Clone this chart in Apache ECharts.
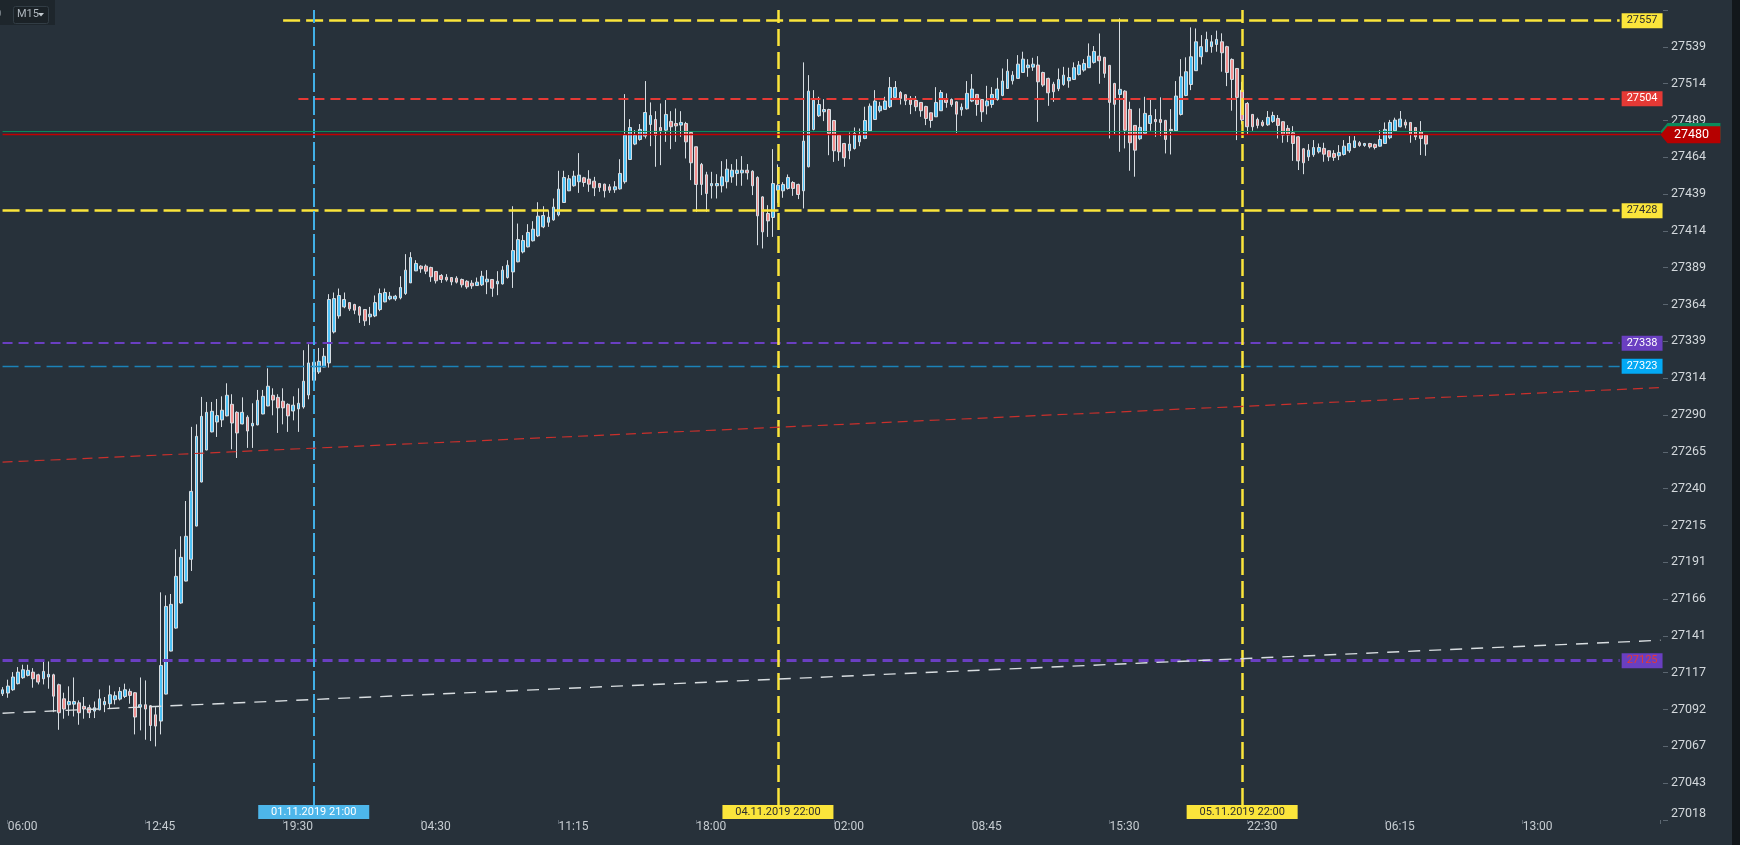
<!DOCTYPE html>
<html>
<head>
<meta charset="utf-8">
<title>M15</title>
<script src="https://cdn.jsdelivr.net/npm/echarts@6.0.0/dist/echarts.min.js"></script>
<style>
  html, body { margin: 0; padding: 0; background: #27313a; }
  #chart { width: 1740px; height: 845px; }
</style>
</head>
<body>
<div id="chart"></div>
<script>
// bar values, one bar per 15 minutes
var openVals = [
  27103.0, 27103.5, 27105.7, 27109.8, 27113.8, 27115.4, 27117.6, 27115.8, 27113.1, 27114.3,
  27115.8, 27109.1, 27099.6, 27095.6, 27096.0, 27096.9, 27094.5, 27093.6, 27091.3, 27092.2,
  27095.6, 27096.3, 27099.0, 27099.4, 27101.2, 27104.6, 27103.7, 27094.0, 27095.6, 27094.9,
  27088.8, 27084.6, 27102.8, 27131.8, 27147.3, 27164.2, 27179.0, 27193.7, 27216.1, 27245.8,
  27267.4, 27279.6, 27286.3, 27287.7, 27290.4, 27298.2, 27292.8, 27285.0, 27289.5, 27283.6,
  27284.3, 27291.7, 27297.1, 27304.3, 27302.9, 27300.3, 27298.2, 27293.7, 27295.1, 27296.4,
  27304.5, 27314.4, 27320.0, 27323.4, 27326.1, 27347.0, 27357.8, 27363.9, 27366.8, 27365.5,
  27363.9, 27362.1, 27357.2, 27357.8, 27362.1, 27367.3, 27369.3, 27369.3, 27370.0, 27372.9,
  27380.1, 27388.2, 27391.4, 27391.4, 27390.5, 27387.8, 27385.1, 27383.9, 27383.7, 27383.3,
  27382.4, 27381.2, 27379.9, 27378.3, 27378.8, 27380.8, 27382.4, 27379.4, 27379.4, 27383.7,
  27387.5, 27394.3, 27401.0, 27404.4, 27408.5, 27411.8, 27417.9, 27421.0, 27422.6, 27426.0,
  27434.3, 27442.2, 27445.6, 27448.3, 27451.0, 27450.1, 27448.7, 27447.1, 27446.7, 27444.9,
  27442.9, 27443.5, 27448.3, 27463.3, 27473.7, 27476.8, 27479.1, 27486.9, 27490.3, 27484.9,
  27483.1, 27489.0, 27487.6, 27486.5, 27487.6, 27481.5, 27471.9, 27460.0, 27453.0, 27445.6,
  27445.6, 27445.6, 27448.3, 27451.6, 27453.9, 27454.3, 27456.1, 27455.4, 27451.2, 27438.1,
  27426.9, 27424.2, 27442.6, 27442.2, 27443.8, 27447.8, 27446.5, 27442.2, 27458.4, 27483.6,
  27492.8, 27495.5, 27497.0, 27489.6, 27479.7, 27474.1, 27469.2, 27470.7, 27475.2, 27477.5,
  27482.7, 27490.3, 27496.2, 27497.1, 27498.9, 27505.2, 27508.5, 27507.0, 27504.5, 27503.1,
  27501.8, 27499.1, 27494.8, 27492.1, 27496.2, 27504.0, 27503.8, 27502.2, 27496.8, 27497.5,
  27502.7, 27507.2, 27503.8, 27499.5, 27500.4, 27503.8, 27506.5, 27511.2, 27516.4, 27518.0,
  27522.0, 27525.2, 27525.6, 27527.0, 27522.0, 27518.0, 27514.1, 27511.0, 27513.9, 27516.4,
  27517.3, 27520.7, 27523.6, 27525.2, 27528.8, 27533.0, 27532.2, 27526.8, 27514.6, 27507.2,
  27509.4, 27497.1, 27486.3, 27477.3, 27480.9, 27487.6, 27490.3, 27490.3, 27489.7, 27483.6,
  27482.7, 27493.7, 27506.5, 27513.9, 27523.2, 27532.6, 27536.0, 27539.4, 27540.9, 27542.7,
  27539.4, 27530.8, 27524.7, 27510.0, 27501.1, 27493.7, 27490.3, 27488.5, 27486.7, 27489.0,
  27491.0, 27488.8, 27484.3, 27481.3, 27478.6, 27470.5, 27465.1, 27466.5, 27468.5, 27470.8,
  27469.2, 27467.4, 27465.8, 27466.7, 27469.2, 27471.4, 27474.6, 27472.8, 27474.1, 27473.5,
  27472.3, 27474.1, 27478.0, 27482.7, 27485.4, 27488.5, 27488.3, 27484.9, 27482.0, 27479.8
];
var closeVals = [
  27105.7, 27108.2, 27114.3, 27117.6, 27119.2, 27118.8, 27113.1, 27110.9, 27118.1, 27116.1,
  27101.4, 27090.2, 27092.7, 27097.8, 27097.8, 27090.2, 27092.7, 27090.2, 27093.6, 27099.6,
  27097.8, 27102.3, 27101.7, 27104.6, 27105.7, 27101.9, 27087.3, 27095.6, 27092.7, 27081.6,
  27081.2, 27122.1, 27161.9, 27163.3, 27182.2, 27195.0, 27209.2, 27239.5, 27276.6, 27290.1,
  27292.8, 27293.5, 27290.6, 27294.2, 27304.3, 27285.6, 27278.9, 27292.8, 27280.2, 27285.4,
  27300.9, 27303.6, 27310.4, 27301.1, 27295.8, 27295.8, 27290.4, 27297.6, 27298.9, 27313.8,
  27326.1, 27326.6, 27327.2, 27330.6, 27368.9, 27369.5, 27371.6, 27368.9, 27362.6, 27361.7,
  27358.3, 27354.5, 27359.0, 27366.8, 27372.9, 27373.6, 27371.1, 27371.1, 27377.0, 27388.7,
  27397.2, 27393.2, 27389.6, 27388.0, 27384.2, 27381.5, 27382.4, 27382.1, 27380.8, 27380.6,
  27378.8, 27377.4, 27378.1, 27380.6, 27384.6, 27382.6, 27376.5, 27381.2, 27388.7, 27392.0,
  27401.9, 27409.3, 27408.7, 27414.1, 27416.3, 27425.1, 27425.5, 27424.4, 27431.2, 27443.3,
  27451.2, 27450.3, 27452.1, 27452.8, 27447.8, 27446.7, 27444.2, 27444.4, 27442.2, 27442.6,
  27444.9, 27453.9, 27479.7, 27484.9, 27479.7, 27483.6, 27495.0, 27493.0, 27479.7, 27482.7,
  27493.7, 27485.4, 27486.0, 27488.3, 27475.2, 27461.1, 27446.5, 27446.5, 27440.4, 27447.1,
  27447.1, 27451.6, 27456.8, 27456.1, 27456.1, 27456.1, 27454.3, 27445.6, 27425.3, 27414.5,
  27421.9, 27447.1, 27446.0, 27446.5, 27451.2, 27443.8, 27439.7, 27475.7, 27509.4, 27503.3,
  27500.4, 27497.0, 27480.9, 27469.2, 27468.5, 27464.4, 27473.7, 27480.9, 27479.7, 27489.6,
  27499.3, 27502.7, 27499.3, 27502.7, 27511.9, 27511.9, 27504.5, 27502.9, 27500.4, 27498.9,
  27496.2, 27491.0, 27489.6, 27501.8, 27508.5, 27501.8, 27500.4, 27493.9, 27498.6, 27507.9,
  27510.8, 27500.4, 27495.5, 27502.7, 27507.2, 27510.8, 27516.2, 27522.9, 27520.2, 27527.6,
  27531.0, 27527.0, 27527.6, 27515.7, 27513.5, 27508.3, 27509.0, 27517.3, 27520.2, 27518.6,
  27525.2, 27527.0, 27528.1, 27533.0, 27536.2, 27529.9, 27521.4, 27501.8, 27500.5, 27510.6,
  27483.1, 27474.6, 27469.6, 27485.0, 27494.4, 27493.0, 27488.8, 27488.3, 27476.8, 27482.7,
  27506.1, 27519.1, 27522.5, 27532.6, 27542.7, 27539.4, 27544.3, 27542.7, 27544.3, 27535.3,
  27522.0, 27517.3, 27505.2, 27490.0, 27485.4, 27485.4, 27486.3, 27486.3, 27491.7, 27493.0,
  27486.3, 27479.8, 27479.8, 27474.1, 27462.4, 27461.1, 27469.6, 27471.4, 27471.4, 27466.9,
  27465.1, 27464.7, 27468.1, 27472.3, 27474.1, 27475.9, 27472.8, 27474.1, 27471.9, 27471.4,
  27476.8, 27483.6, 27488.3, 27489.9, 27490.6, 27486.5, 27480.4, 27478.6, 27477.5, 27473.7
];
var lowVals = [
  27101.5, 27100.3, 27105.0, 27109.3, 27113.1, 27114.7, 27107.1, 27109.3, 27109.3, 27106.4,
  27090.6, 27078.7, 27086.2, 27088.2, 27087.7, 27082.1, 27086.2, 27086.6, 27086.6, 27091.8,
  27090.6, 27092.9, 27095.8, 27098.5, 27100.1, 27096.3, 27075.6, 27078.3, 27072.0, 27071.1,
  27067.5, 27075.6, 27102.6, 27131.6, 27146.9, 27163.7, 27178.8, 27185.8, 27215.9, 27245.6,
  27267.2, 27279.3, 27276.2, 27282.9, 27290.1, 27267.9, 27262.0, 27284.7, 27268.8, 27268.8,
  27284.1, 27291.5, 27296.9, 27290.8, 27278.9, 27284.7, 27279.6, 27287.4, 27279.6, 27295.3,
  27301.6, 27309.5, 27318.7, 27323.2, 27323.0, 27346.0, 27356.0, 27363.0, 27361.2, 27359.0,
  27353.1, 27351.1, 27351.6, 27357.0, 27361.0, 27367.0, 27368.4, 27368.0, 27369.0, 27372.0,
  27380.0, 27388.0, 27386.9, 27386.0, 27380.8, 27379.7, 27380.1, 27381.0, 27378.5, 27379.7,
  27377.0, 27376.1, 27376.1, 27378.0, 27378.0, 27372.5, 27370.7, 27371.8, 27379.0, 27383.0,
  27376.7, 27394.0, 27400.0, 27404.0, 27408.0, 27411.0, 27417.0, 27417.9, 27422.0, 27425.0,
  27434.0, 27442.0, 27445.0, 27440.8, 27444.9, 27441.5, 27438.6, 27441.5, 27437.7, 27440.8,
  27440.8, 27443.0, 27447.0, 27463.0, 27473.0, 27476.0, 27477.5, 27472.3, 27458.4, 27459.5,
  27475.2, 27470.3, 27475.2, 27478.6, 27464.0, 27449.4, 27428.0, 27439.3, 27428.0, 27437.0,
  27437.0, 27441.1, 27443.8, 27447.6, 27445.6, 27445.6, 27449.8, 27439.3, 27405.5, 27403.3,
  27411.1, 27411.1, 27434.0, 27437.5, 27443.0, 27438.8, 27436.6, 27430.3, 27458.0, 27483.0,
  27492.0, 27489.2, 27466.2, 27461.7, 27462.4, 27458.4, 27463.5, 27470.0, 27472.3, 27477.0,
  27482.0, 27490.0, 27495.0, 27497.0, 27498.0, 27504.0, 27500.4, 27500.0, 27493.9, 27495.9,
  27492.1, 27486.5, 27484.7, 27492.0, 27496.0, 27498.2, 27498.9, 27481.3, 27492.8, 27497.0,
  27502.0, 27492.8, 27488.7, 27493.7, 27498.2, 27503.0, 27506.0, 27511.0, 27513.9, 27518.0,
  27522.0, 27519.1, 27523.1, 27488.7, 27512.3, 27499.5, 27502.2, 27509.4, 27513.0, 27511.7,
  27517.0, 27520.0, 27522.5, 27525.0, 27528.0, 27514.4, 27518.4, 27477.5, 27480.4, 27468.5,
  27470.8, 27455.7, 27451.7, 27476.4, 27480.0, 27482.7, 27478.6, 27479.1, 27467.4, 27466.7,
  27482.0, 27493.0, 27506.0, 27510.1, 27523.0, 27527.4, 27536.0, 27535.3, 27536.0, 27522.5,
  27512.8, 27496.2, 27476.4, 27487.0, 27480.4, 27482.7, 27484.3, 27485.4, 27486.0, 27488.0,
  27477.5, 27474.6, 27475.0, 27462.4, 27456.2, 27453.4, 27462.4, 27465.1, 27467.4, 27461.8,
  27462.2, 27462.4, 27462.9, 27466.0, 27467.8, 27471.0, 27471.9, 27471.9, 27470.8, 27470.1,
  27472.0, 27474.0, 27477.0, 27482.0, 27485.0, 27484.3, 27474.6, 27476.4, 27466.3, 27465.8
];
var highVals = [
  27107.5, 27112.5, 27117.6, 27121.0, 27122.6, 27122.6, 27120.3, 27116.5, 27124.8, 27124.8,
  27116.5, 27109.8, 27103.7, 27108.0, 27114.0, 27098.5, 27100.8, 27095.6, 27097.8, 27105.9,
  27100.8, 27108.6, 27104.6, 27107.5, 27109.8, 27106.4, 27104.1, 27114.0, 27112.0, 27095.4,
  27094.0, 27171.4, 27169.4, 27170.3, 27200.4, 27209.2, 27233.0, 27283.0, 27284.7, 27303.2,
  27299.8, 27299.8, 27301.8, 27303.6, 27312.4, 27305.0, 27293.5, 27302.9, 27290.8, 27298.9,
  27307.9, 27307.9, 27322.5, 27309.0, 27305.0, 27309.0, 27298.9, 27303.6, 27309.0, 27334.7,
  27338.7, 27334.0, 27336.2, 27336.2, 27372.5, 27373.6, 27376.3, 27373.6, 27367.0, 27366.0,
  27364.5, 27362.5, 27363.9, 27371.6, 27376.3, 27376.3, 27374.0, 27372.0, 27384.6, 27399.5,
  27400.8, 27395.4, 27392.0, 27392.5, 27391.0, 27388.0, 27386.0, 27386.0, 27384.0, 27384.6,
  27383.0, 27381.9, 27381.9, 27383.7, 27388.2, 27388.7, 27382.6, 27388.0, 27391.4, 27395.4,
  27431.8, 27420.1, 27412.3, 27419.7, 27421.7, 27434.5, 27431.8, 27429.1, 27437.0, 27455.7,
  27455.7, 27452.8, 27455.7, 27467.6, 27451.6, 27456.1, 27451.6, 27447.5, 27447.0, 27446.7,
  27448.7, 27463.5, 27507.4, 27490.5, 27483.1, 27487.2, 27516.2, 27501.8, 27495.9, 27501.1,
  27503.4, 27495.9, 27497.7, 27495.9, 27488.7, 27482.0, 27472.0, 27461.0, 27455.0, 27455.0,
  27453.4, 27462.2, 27463.5, 27460.2, 27463.5, 27465.6, 27460.2, 27456.0, 27452.0, 27438.5,
  27432.5, 27470.3, 27460.0, 27448.0, 27453.2, 27448.7, 27447.0, 27528.8, 27520.2, 27510.1,
  27505.6, 27504.0, 27497.5, 27490.0, 27480.0, 27474.5, 27481.5, 27484.9, 27484.2, 27498.9,
  27501.1, 27510.1, 27502.2, 27505.6, 27518.9, 27516.2, 27509.4, 27507.4, 27506.1, 27506.1,
  27502.0, 27499.5, 27495.0, 27512.1, 27510.1, 27507.9, 27504.5, 27502.5, 27501.1, 27516.2,
  27520.9, 27507.5, 27504.0, 27513.0, 27512.1, 27518.4, 27524.7, 27531.0, 27522.9, 27533.7,
  27536.0, 27531.0, 27531.9, 27533.0, 27522.5, 27518.5, 27515.7, 27524.7, 27525.8, 27525.2,
  27528.8, 27529.7, 27531.0, 27541.6, 27539.8, 27548.3, 27532.5, 27527.0, 27515.0, 27558.5,
  27510.0, 27502.3, 27486.5, 27497.8, 27505.6, 27503.8, 27497.3, 27505.2, 27490.0, 27497.3,
  27516.2, 27531.0, 27532.2, 27552.4, 27551.7, 27547.2, 27549.5, 27547.2, 27550.2, 27548.4,
  27540.0, 27531.5, 27525.0, 27515.7, 27502.0, 27494.0, 27491.5, 27489.9, 27496.0, 27495.5,
  27493.3, 27489.0, 27486.5, 27485.8, 27479.0, 27471.0, 27473.7, 27476.4, 27474.1, 27474.6,
  27469.5, 27469.6, 27473.0, 27476.4, 27479.1, 27479.1, 27475.7, 27474.5, 27474.5, 27474.0,
  27483.1, 27488.3, 27490.0, 27491.5, 27496.0, 27490.3, 27488.5, 27485.0, 27489.2, 27480.0
];

// time axis labels, one every 27 bars starting at bar 1
var xTickLabels = ['06:00', '12:45', '19:30', '04:30', '11:15', '18:00', '02:00', '08:45', '15:30', '22:30', '06:15', '13:00'];
var X_TICK_FIRST = 1, X_TICK_STEP = 27;
var N_SLOTS = 326; // bar slots visible on the axis (data + empty space on the right)

// price axis labels (bottom to top)
var yTickLabels = ['27018', '27043', '27067', '27092', '27117', '27141', '27166', '27191', '27215', '27240', '27265',
  '27290', '27314', '27339', '27364', '27389', '27414', '27439', '27464', '27489', '27514', '27539'];
var Y_MIN = 27017.87, Y_STEP = 24.83, Y_MAX = 27564.13;

// horizontal levels drawn from a bar to the right edge
var levelPrices = [27556.9, 27504.3, 27428.8, 27339.4, 27323.9, 27125.3];
var levelFrom = [55, 58, 0, 0, 0, 0];
var levelLabels = ['27557', '27504', '27428', '27338', '27323', '27125'];

// vertical date markers
var vlineBars = [61, 152, 243];
var vlineLabels = ['01.11.2019 21:00', '04.11.2019 22:00', '05.11.2019 22:00'];

// two sloped trend lines [bar, price]
var trendRed = [[0, 27259.2], [325, 27309.5]];
var trendWhite = [[0, 27089.9], [325, 27139.1]];

// current bid / ask
var bidPrice = 27480, askPrice = 27482.2;

var FONT = 'Roboto, "Noto Sans", sans-serif';
var YELLOW = '#fbe53b', RED = '#e53935', PURPLE = '#6a3fc1', BLUE_LBL = '#03a9f4';

var levelStyles = [
  { line: { color: YELLOW, width: 2.5, type: [17, 6] }, bg: YELLOW, fg: '#2e2e2e' },
  { line: { color: RED, width: 2, type: [10, 6] }, bg: RED, fg: '#ffffff' },
  { line: { color: YELLOW, width: 2.5, type: [17, 6] }, bg: YELLOW, fg: '#2e2e2e' },
  { line: { color: PURPLE, width: 2, type: [10, 6] }, bg: PURPLE, fg: '#ffffff' },
  { line: { color: '#1b82b8', width: 1.4, type: [16, 6] }, bg: BLUE_LBL, fg: '#ffffff' },
  { line: { color: PURPLE, width: 3, type: [10, 6] }, bg: PURPLE, fg: RED }
];
var vlineStyles = [
  { line: { color: '#41afe6', width: 2, type: [19, 4] }, bg: '#4db6ea', fg: '#ffffff' },
  { line: { color: YELLOW, width: 2.5, type: [17, 6] }, bg: YELLOW, fg: '#2e2e2e' },
  { line: { color: YELLOW, width: 2.5, type: [17, 6] }, bg: YELLOW, fg: '#2e2e2e' }
];

var candles = openVals.map(function (o, i) {
  return [o, closeVals[i], lowVals[i], highVals[i]];
});

var categories = [];
for (var i = 0; i < N_SLOTS; i++) categories.push(String(i));

function isXTick(idx) {
  return idx >= X_TICK_FIRST && (idx - X_TICK_FIRST) % X_TICK_STEP === 0;
}

var LEVEL_END = 317; // lines stop here, the label box sits after it
var lines = [];
levelPrices.forEach(function (p, k) {
  var st = levelStyles[k];
  lines.push([
    {
      coord: [levelFrom[k], p],
      lineStyle: st.line,
      label: {
        show: true, position: 'end', distance: 2, formatter: levelLabels[k],
        backgroundColor: st.bg, color: st.fg, fontSize: 11, lineHeight: 13,
        padding: [1, 5], fontFamily: FONT
      }
    },
    { coord: [LEVEL_END, p] }
  ]);
});
vlineBars.forEach(function (b, k) {
  var st = vlineStyles[k];
  lines.push([
    {
      coord: [b, 27028.0],
      lineStyle: st.line,
      label: {
        show: true, position: 'start', distance: 0, formatter: vlineLabels[k],
        backgroundColor: st.bg, color: st.fg, fontSize: 11, width: 111, height: 14,
        lineHeight: 14, padding: 0, fontFamily: FONT
      }
    },
    { coord: [b, Y_MAX] }
  ]);
});
lines.push([{ coord: trendRed[0], lineStyle: { color: '#c9302c', width: 1.2, type: [10, 6] } }, { coord: trendRed[1] }]);
lines.push([{ coord: trendWhite[0], lineStyle: { color: '#d8dde0', width: 1.4, type: [12, 9] } }, { coord: trendWhite[1] }]);
lines.push([{ coord: [0, askPrice], lineStyle: { color: '#0b8a5c', width: 1, type: 'solid' } }, { coord: [325, askPrice] }]);
lines.push([{ coord: [0, bidPrice], lineStyle: { color: '#c20000', width: 1.3, type: 'solid' } }, { coord: [325, bidPrice] }]);

var ARROW = 'path://M0,8.5 L7,0 L60,0 L60,17 L7,17 Z';

var chart = echarts.init(document.getElementById('chart'));
var option = {
  backgroundColor: '#27313a',
  animation: false,
  textStyle: { fontFamily: FONT },
  grid: { left: 0, right: 77, top: 10, bottom: 25 },
  xAxis: {
    type: 'category',
    data: categories,
    boundaryGap: true,
    axisLine: { show: false },
    axisTick: {
      show: true, alignWithLabel: true, length: 4,
      interval: function (idx) { return isXTick(idx); },
      lineStyle: { color: '#5b6670' }
    },
    axisLabel: {
      interval: function (idx) { return isXTick(idx); },
      formatter: function (v, idx) { return xTickLabels[(idx - X_TICK_FIRST) / X_TICK_STEP] || ''; },
      align: 'left', margin: 1, color: '#c6ccd1', fontSize: 12, fontFamily: FONT
    },
    splitLine: { show: false }
  },
  yAxis: {
    type: 'value',
    position: 'right',
    min: Y_MIN, max: Y_MAX, interval: Y_STEP,
    axisLine: { show: false },
    axisTick: { show: true, length: 5, lineStyle: { color: '#5b6670' } },
    axisLabel: {
      margin: 8, color: '#d3d8dc', fontSize: 12.5, fontFamily: FONT,
      verticalAlignMinLabel: 'bottom',
      formatter: function (v) {
        var k = Math.round((v - Y_MIN) / Y_STEP);
        return yTickLabels[k] || '';
      }
    },
    splitLine: { show: false }
  },
  series: [{
    type: 'candlestick',
    data: candles,
    barWidth: 3.2,
    itemStyle: {
      color: '#4fc3f7', color0: '#f29090',
      borderColor: '#d7dde2', borderColor0: '#d7dde2', borderWidth: 1
    },
    markLine: {
      silent: true, animation: false, symbol: ['none', 'none'],
      label: { show: false },
      data: lines
    },
    markPoint: {
      silent: true, animation: false,
      data: [
        {
          coord: [325, askPrice], symbol: ARROW, symbolSize: [60, 17], symbolOffset: [30, 0],
          itemStyle: { color: '#0b8a5c' }, label: { show: false }
        },
        {
          coord: [325, bidPrice], symbol: ARROW, symbolSize: [60, 17], symbolOffset: [30, 0],
          itemStyle: { color: '#b60000' },
          label: { show: true, position: 'inside', formatter: String(bidPrice), color: '#ffffff', fontSize: 12.5, fontFamily: FONT, offset: [1, 0] }
        }
      ]
    }
  }],
  graphic: [
    { type: 'rect', right: 0, top: 0, shape: { width: 8, height: 845 }, style: { fill: '#12171b' } },
    { type: 'rect', left: 0, top: 0, shape: { width: 55, height: 25 }, style: { fill: '#1e262c' } },
    { type: 'rect', left: 13, top: 6, shape: { x: 0, y: 0, width: 35, height: 17, r: 2 }, style: { fill: '#1b2227', stroke: '#323d45', lineWidth: 1 } },
    { type: 'text', left: 17, top: 9, style: { text: 'M15', fill: '#aeb6bd', font: '11px ' + FONT } },
    { type: 'polygon', shape: { points: [[38, 13], [44, 13], [41, 16.5]] }, style: { fill: '#c3cacf' } },
    { type: 'text', left: -5, top: 9, style: { text: '0', fill: '#aeb6bd', font: '11px ' + FONT } }
  ]
};
chart.setOption(option);
</script>
</body>
</html>
